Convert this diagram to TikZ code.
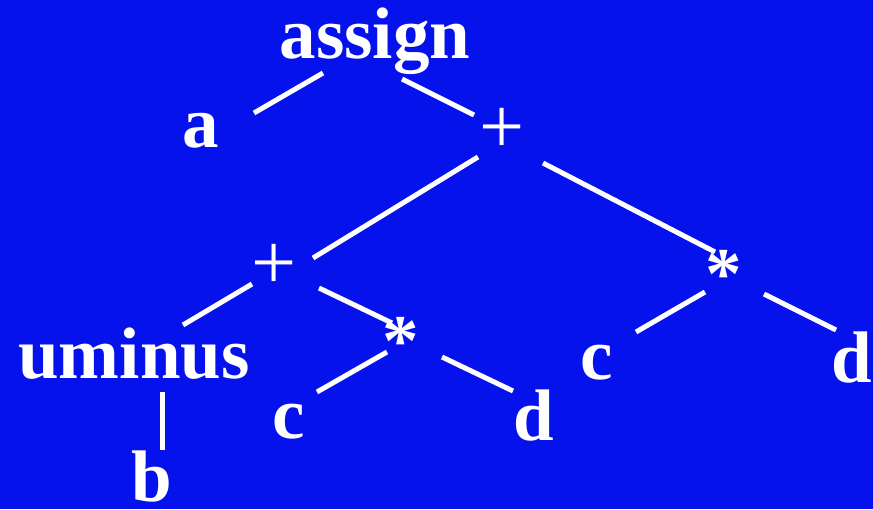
\documentclass[tikz,border=0pt]{standalone}
\usepackage{fontspec}
\setmainfont{Liberation Serif}
\definecolor{bgblue}{RGB}{6,18,236}
\begin{document}
\begin{tikzpicture}[x=1pt,y=-1pt,
  lbl/.style={text=white,inner sep=0pt,font=\fontsize{73}{80}\selectfont\bfseries},
  oplbl/.style={text=white,inner sep=0pt,font=\fontsize{80}{88}\selectfont\mdseries},
  edge/.style={draw=white,line width=5pt}]
\fill[bgblue] (0,0) rectangle (873,509);
\useasboundingbox (0,0) rectangle (873,509);
% nodes
\node[lbl] (assign) at (375,41.5) {assign};
\node[lbl] (a) at (201,130.5) {a};
\node[oplbl] (plus1) at (502,130.5) {+};
\node[oplbl] (plus2) at (274,267) {+};
\node[lbl] (star2) at (724,274) {*};
\node[lbl] (c2) at (597,362.5) {c};
\node[lbl] (d2) at (852,357.5) {d};
\node[lbl] (uminus) at (134,354) {uminus};
\node[lbl] (star1) at (401,341) {*};
\node[lbl] (c1) at (289,421.5) {c};
\node[lbl] (d1) at (534,416) {d};
\node[lbl] (b) at (152,477) {b};
% edges
\draw[edge] ([shift={(-52,31.5)}]assign.center) -- ([shift={(53,-17.5)}]a.center);
\draw[edge] ([shift={(27,37.5)}]assign.center) -- ([shift={(-28,-15.5)}]plus1.center);
\draw[edge] ([shift={(-24,26.5)}]plus1.center) -- ([shift={(39,-9)}]plus2.center);
\draw[edge] ([shift={(41,32.5)}]plus1.center) -- ([shift={(-9,-22)}]star2.center);
\draw[edge] ([shift={(-19,18)}]star2.center) -- ([shift={(39,-30.5)}]c2.center);
\draw[edge] ([shift={(40,20)}]star2.center) -- ([shift={(-16,-27.5)}]d2.center);
\draw[edge] ([shift={(-22,17)}]plus2.center) -- ([shift={(49,-29)}]uminus.center);
\draw[edge] ([shift={(45,21)}]plus2.center) -- ([shift={(-9,-18)}]star1.center);
\draw[edge] ([shift={(-14,11)}]star1.center) -- ([shift={(28,-29.5)}]c1.center);
\draw[edge] ([shift={(41,16)}]star1.center) -- ([shift={(-21,-25)}]d1.center);
\draw[edge] ([shift={(28,38)}]uminus.center) -- ([shift={(10,-27)}]b.center);
\end{tikzpicture}
\end{document}
